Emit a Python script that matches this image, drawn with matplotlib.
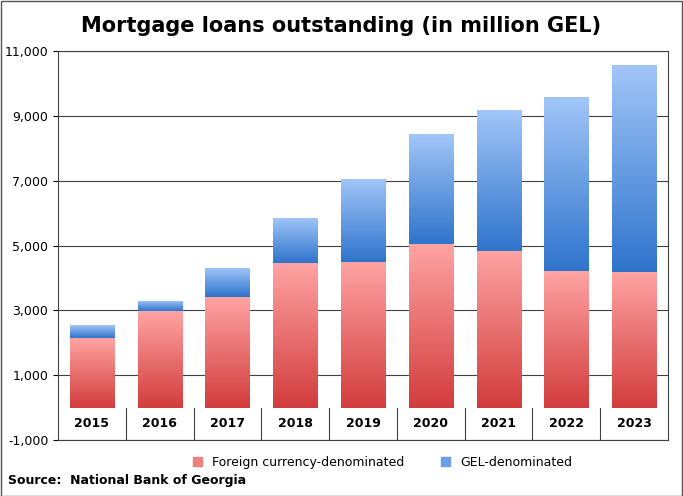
import matplotlib.pyplot as plt
import numpy as np
from matplotlib.colors import LinearSegmentedColormap

years = ["2015", "2016", "2017", "2018", "2019", "2020", "2021", "2022", "2023"]
foreign = [2150, 2980, 3410, 4460, 4490, 5050, 4830, 4220, 4190]
gel = [400, 310, 900, 1390, 2570, 3390, 4350, 5360, 6380]

fig = plt.figure(figsize=(6.83, 4.96), dpi=100)
ax = fig.add_axes([0.085, 0.113, 0.893, 0.784])

red_cm = LinearSegmentedColormap.from_list("r", ["#d23c3c", "#ffa3a3"])
blue_cm = LinearSegmentedColormap.from_list("b", ["#2f74cc", "#a2c6f8"])
grad = np.linspace(0, 1, 256).reshape(-1, 1)

x = np.arange(len(years))
b1 = ax.bar(x, foreign, width=0.65, color="none", zorder=3)
b2 = ax.bar(x, gel, bottom=foreign, width=0.65, color="none", zorder=3)
for bars, cm in ((b1, red_cm), (b2, blue_cm)):
    for r in bars:
        x0, y0, w, h = r.get_x(), r.get_y(), r.get_width(), r.get_height()
        im = ax.imshow(grad, cmap=cm, origin="lower", aspect="auto",
                       extent=(x0, x0 + w, y0, y0 + h), zorder=3)
        im.set_clip_path(r)

ax.set_xlim(-0.5, len(years) - 0.5)
ax.set_ylim(-1000, 11000)
ax.set_yticks(range(-1000, 11001, 2000))
ax.set_yticklabels([f"{v:,}" for v in range(-1000, 11001, 2000)], fontsize=9)
ax.set_xticks([])
ax.grid(axis="y", color="#404040", lw=0.8, zorder=0)
for s in ax.spines.values():
    s.set_color("#404040")
for i, yr in enumerate(years):
    ax.text(i, -500, yr, ha="center", va="center", fontsize=9, fontweight="bold")
for xv in np.arange(0.5, len(years) - 0.5, 1):
    ax.plot([xv, xv], [-1000, 0], color="#404040", lw=0.8, zorder=1)

h1 = plt.Rectangle((0, 0), 1, 1, color="#f08080")
h2 = plt.Rectangle((0, 0), 1, 1, color="#6aa0e8")
fig.legend([h1, h2], ["Foreign currency-denominated", "GEL-denominated"],
           loc="center", bbox_to_anchor=(0.56, 0.068), ncol=2, frameon=False,
           fontsize=9, handlelength=0.7, handleheight=0.7, columnspacing=3)
fig.text(0.5, 0.947, "Mortgage loans outstanding (in million GEL)",
         ha="center", va="center", fontsize=15, fontweight="bold")
fig.text(0.012, 0.025, "Source:  National Bank of Georgia", fontsize=9, fontweight="bold")
fig.patches.append(plt.Rectangle((0.001, 0.001), 0.997, 0.997, transform=fig.transFigure,
                                 fill=False, ec="#555555", lw=1))
fig.savefig("out.png")
